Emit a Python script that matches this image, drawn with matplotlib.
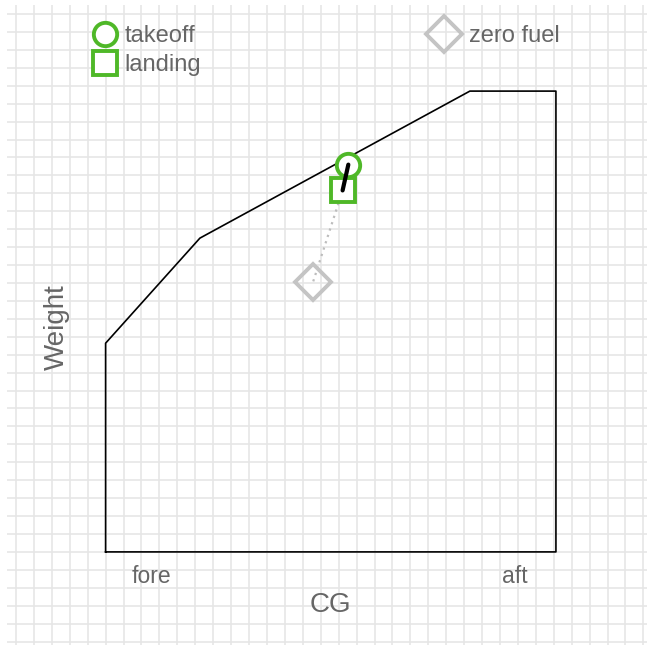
import matplotlib.pyplot as plt
from matplotlib.ticker import MultipleLocator

# CG envelope (inches / lbs)
env_cg = [35.0, 35.0, 37.63, 45.16, 47.56, 47.56, 35.0]
env_wt = [1500, 2082, 2375, 2785, 2785, 1500, 1500]

# loading points
takeoff = (41.77, 2580)
landing = (41.61, 2508)
zero_fuel = (40.79, 2254)

green = '#4fb828'
light = '#c4c4c4'
txt = '#666666'

plt.rcParams['font.family'] = ['Liberation Sans', 'DejaVu Sans']

fig = plt.figure(figsize=(6.47, 6.45), dpi=100)
ax = fig.add_axes([7 / 647, 0, 640 / 647, 640 / 645])
ax.set_xlim(32.25, 50.10)
ax.set_ylim(1240.4, 3025.1)
ax.xaxis.set_major_locator(MultipleLocator(0.5))
ax.yaxis.set_major_locator(MultipleLocator(50))
ax.grid(True, color='#e6e6e6', linewidth=1.2)
ax.set_axisbelow(True)
ax.tick_params(length=0, labelbottom=False, labelleft=False)
for s in ax.spines.values():
    s.set_visible(False)

# envelope
ax.plot(env_cg, env_wt, color='black', lw=1.2, zorder=2)

# zero fuel -> landing (dotted), landing -> takeoff (solid)
ax.plot([landing[0], zero_fuel[0]], [landing[1], zero_fuel[1]],
        color='#bdbdbd', lw=1.6, ls=(0, (1, 2)), zorder=3)
zf, = ax.plot(*zero_fuel, 'D', ms=18.5, mfc='none', mec=light, mew=2.8,
              zorder=4, label='zero fuel')
ld, = ax.plot(*landing, 's', ms=16.8, mfc='white', mec=green, mew=2.8,
              zorder=5, label='landing')
to, = ax.plot(*takeoff, 'o', ms=16.8, mfc='white', mec=green, mew=2.8,
              zorder=5, label='takeoff')
ax.plot([takeoff[0], landing[0]], [takeoff[1], landing[1]], color='black',
        lw=3.0, solid_capstyle='round', zorder=6)

# legends
leg_kw = dict(loc='upper left', bbox_transform=fig.transFigure, frameon=False,
              borderpad=0, borderaxespad=0, handlelength=1.0,
              labelspacing=0.28, fontsize=17, labelcolor=txt)
leg1 = ax.legend(handles=[to, ld], bbox_to_anchor=(93.0 / 647, 1 - 25.4 / 645),
                 handletextpad=0.32, **leg_kw)
ax.add_artist(leg1)
ax.legend(handles=[zf], bbox_to_anchor=(432.4 / 647, 1 - 25.4 / 645),
          handletextpad=0.54, **leg_kw)

# axis labels
ax.text(36.27, 1413, 'fore', color=txt, fontsize=16.5, ha='center', va='baseline')
ax.text(46.42, 1413, 'aft', color=txt, fontsize=16.5, ha='center', va='baseline')
ax.text(41.28, 1332, 'CG', color=txt, fontsize=20, ha='center', va='baseline')
ax.text(33.64, 2126, 'Weight', color=txt, fontsize=20, ha='center', va='center',
        rotation=90)

fig.savefig('out.png', dpi=100)
